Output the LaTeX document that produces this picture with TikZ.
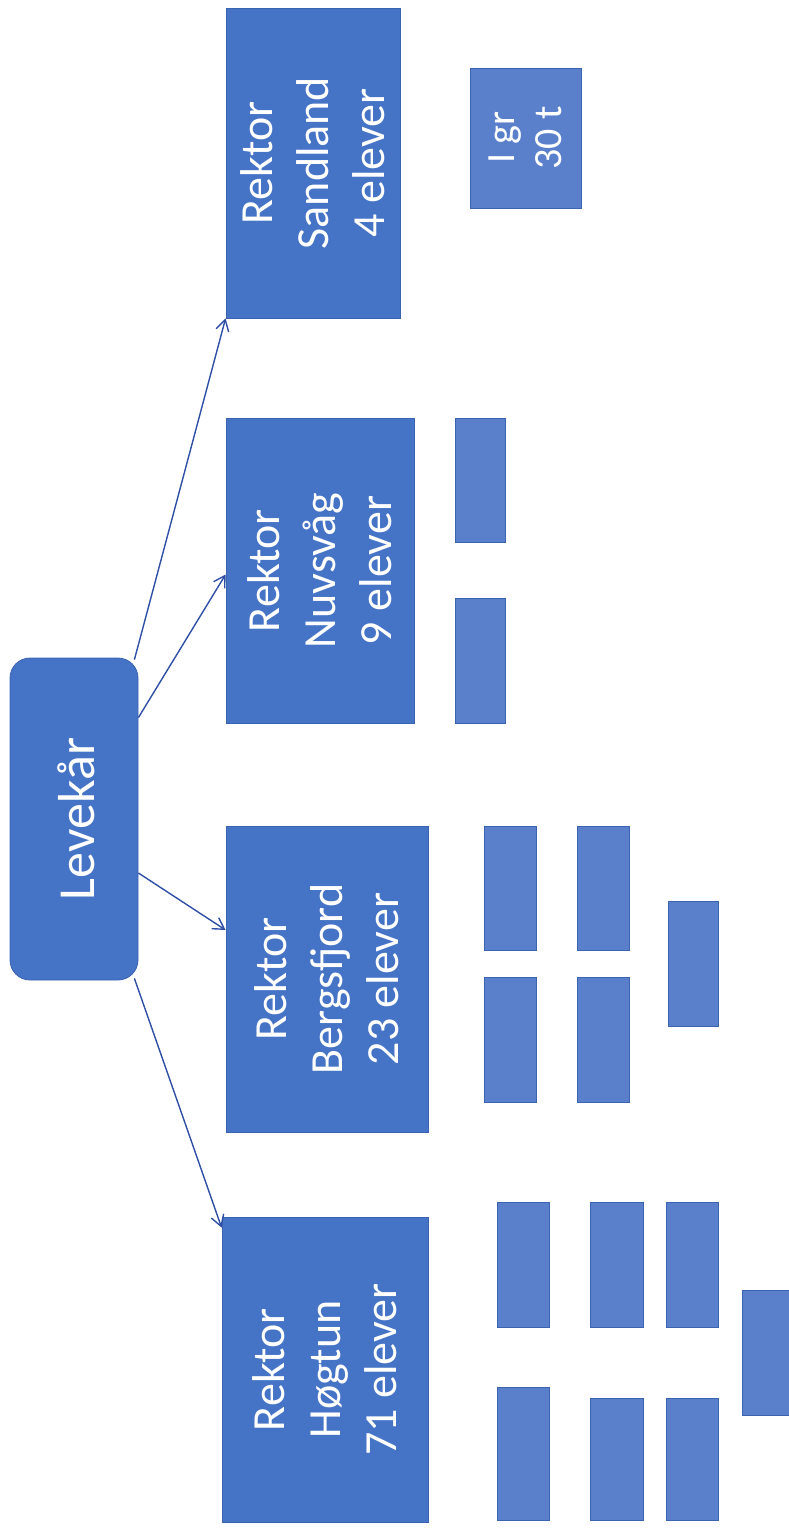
\documentclass[tikz,border=0pt]{standalone}
\usepackage{fontspec}
\setmainfont{Carlito}
\usetikzlibrary{arrows.meta}
\definecolor{bigblue}{HTML}{4573C6}
\definecolor{smallblue}{HTML}{5A80CC}
\definecolor{edgeblue}{HTML}{3A63B0}
\definecolor{arrowblue}{HTML}{2E4FA5}
\tikzset{
  bigbox/.style={draw=edgeblue, line width=0.8pt, fill=bigblue, inner sep=0pt},
  smallbox/.style={draw=edgeblue, line width=0.8pt, fill=smallblue, inner sep=0pt},
  rootbox/.style={draw=edgeblue, line width=0.8pt, fill=bigblue, inner sep=0pt, rounded corners=20pt},
  bigtext/.style={text=white, rotate=90, align=center, font=\fontsize{46}{56}\selectfont, inner sep=0pt},
  roottext/.style={text=white, rotate=90, align=center, font=\fontsize{52}{60}\selectfont, inner sep=0pt},
  smalltext/.style={text=white, rotate=90, align=center, font=\fontsize{40}{47}\selectfont, inner sep=0pt},
  link/.style={draw=arrowblue, line width=1.4pt, -{Straight Barb[length=11pt,width=13pt]}}
}
\newcommand{\bx}[6]{\node[#1, minimum width=#4pt, minimum height=#5pt] (#6) at (#2,#3) {};}
\begin{document}
\begin{tikzpicture}[x=1pt,y=-1pt]
\useasboundingbox (0,0) rectangle (789,1529);
\clip (0,0) rectangle (789,1529);
% root
\bx{rootbox}{74}{819}{128}{322}{lev}
\node[roottext] (levt) at ([xshift=2pt]lev.center) {Levekår};
% Sandland
\bx{bigbox}{313}{163}{174}{310}{sand}
\node[bigtext] (sandt) at (sand.center) {Rektor\\Sandland\\4 elever};
\bx{smallbox}{525.5}{138}{111}{140}{igr}
\node[smalltext] (igrt) at (igr.center) {I gr\\30 t};
% Nuvsvag
\bx{bigbox}{320}{570.5}{188}{305}{nuv}
\node[bigtext] (nuvt) at (nuv.center) {Rektor\\Nuvsvåg\\9 elever};
\bx{smallbox}{480}{480}{50}{124}{n1}
\bx{smallbox}{480}{660.5}{50}{125}{n2}
% Bergsfjord
\bx{bigbox}{327}{979}{202}{306}{berg}
\node[bigtext] (bergt) at (berg.center) {Rektor\\Bergsfjord\\23 elever};
\bx{smallbox}{510}{888}{52}{124}{b1}
\bx{smallbox}{510}{1039.5}{52}{125}{b2}
\bx{smallbox}{603}{888}{52}{124}{b3}
\bx{smallbox}{603}{1039.5}{52}{125}{b4}
\bx{smallbox}{693}{963.5}{50}{125}{b5}
% Hogtun
\bx{bigbox}{325}{1369.5}{206}{305}{hog}
\node[bigtext] (hogt) at (hog.center) {Rektor\\Høgtun\\71 elever};
\bx{smallbox}{523}{1264.5}{52}{125}{h1}
\bx{smallbox}{523}{1453.5}{52}{133}{h2}
\bx{smallbox}{616.5}{1264.5}{53}{125}{h3}
\bx{smallbox}{616.5}{1459}{53}{122}{h4}
\bx{smallbox}{692}{1264.5}{52}{125}{h5}
\bx{smallbox}{692}{1459}{52}{122}{h6}
\bx{smallbox}{771}{1352.5}{58}{125}{h7}
% connectors
\draw[link] ([xshift=-4pt,yshift=-2pt]lev.north east) -- (sand.south west);
\draw[link] ([yshift=-60pt]lev.north east) -- ([yshift=-4pt]nuv.west);
\draw[link] ([yshift=-54pt]lev.east) -- ([yshift=49pt]berg.west);
\draw[link] ([xshift=-4pt,yshift=2pt]lev.south east) -- ([yshift=-11pt]hog.north west);
\end{tikzpicture}
\end{document}
